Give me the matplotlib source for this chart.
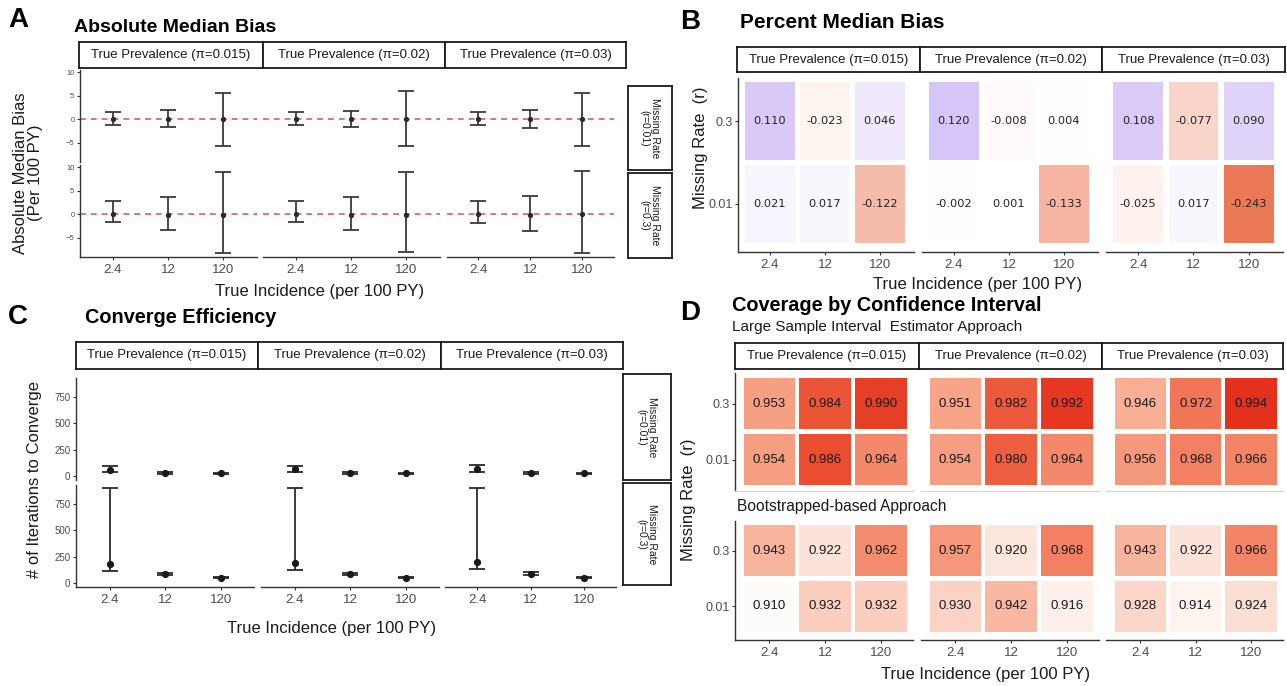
import matplotlib
matplotlib.use("Agg")
import matplotlib.pyplot as plt
from matplotlib.colors import LinearSegmentedColormap, Normalize

plt.rcParams['font.family'] = ['Liberation Sans', 'DejaVu Sans']

# ---------------- data ----------------
incidence = ["2.4", "12", "120"]
prevalence = ["True Prevalence (\u03c0=0.015)", "True Prevalence (\u03c0=0.02)",
              "True Prevalence (\u03c0=0.03)"]
missing_strip = ["Missing Rate\n(r=0.01)", "Missing Rate\n(r=0.3)"]
missing_rate = ["0.01", "0.3"]          # heatmap rows, bottom -> top

# A: absolute median bias (per 100 PY), [prevalence][incidence]
biasA_med_r001 = [[0.0, 0.0, 0.0], [0.0, 0.0, 0.0], [0.0, 0.0, 0.0]]
biasA_lo_r001 = [[-1.3, -1.8, -5.7], [-1.3, -1.8, -5.7], [-1.3, -2.0, -5.8]]
biasA_hi_r001 = [[1.5, 1.9, 5.5], [1.5, 1.8, 6.0], [1.5, 2.0, 5.6]]
biasA_med_r03 = [[0.0, -0.2, -0.2], [0.0, -0.2, -0.2], [0.0, -0.2, 0.0]]
biasA_lo_r03 = [[-1.8, -3.4, -8.2], [-1.8, -3.5, -8.1], [-1.9, -3.7, -8.2]]
biasA_hi_r03 = [[2.8, 3.7, 8.9], [2.8, 3.7, 9.0], [2.8, 3.8, 9.2]]

# B: percent median bias
pbias_r03 = [[0.110, -0.023, 0.046], [0.120, -0.008, 0.004], [0.108, -0.077, 0.090]]
pbias_r001 = [[0.021, 0.017, -0.122], [-0.002, 0.001, -0.133], [-0.025, 0.017, -0.243]]

# C: iterations to converge
iter_med_r001 = [[60, 28, 25], [62, 28, 25], [62, 28, 25]]
iter_lo_r001 = [[40, 20, 17], [40, 20, 17], [38, 20, 17]]
iter_hi_r001 = [[95, 35, 32], [95, 35, 32], [105, 35, 32]]
iter_med_r03 = [[178, 83, 50], [187, 85, 50], [197, 90, 50]]
iter_lo_r03 = [[117, 72, 43], [123, 74, 43], [130, 78, 43]]
iter_hi_r03 = [[900, 95, 58], [900, 97, 58], [900, 100, 58]]

# D: coverage
cov_large_r03 = [[0.953, 0.984, 0.990], [0.951, 0.982, 0.992], [0.946, 0.972, 0.994]]
cov_large_r001 = [[0.954, 0.986, 0.964], [0.954, 0.980, 0.964], [0.956, 0.968, 0.966]]
cov_boot_r03 = [[0.943, 0.922, 0.962], [0.957, 0.920, 0.968], [0.943, 0.922, 0.966]]
cov_boot_r001 = [[0.910, 0.932, 0.932], [0.930, 0.942, 0.916], [0.928, 0.914, 0.924]]

# ---------------- layout helpers ----------------
W, H = 1287, 686
fig = plt.figure(figsize=(W / 100, H / 100), dpi=100)
TICKC = '#4d4d4d'
AXC = '#333333'
TXT = '#1a1a1a'


def add_ax(x0, y0, x1, y1):
    return fig.add_axes([x0 / W, 1 - y1 / H, (x1 - x0) / W, (y1 - y0) / H])


def ftext(x, y, s, **kw):
    fig.text(x / W, 1 - y / H, s, **kw)


def strip(x0, y0, x1, y1, text, rot=0, fs=9.5):
    ax = add_ax(x0, y0, x1, y1)
    ax.set_xticks([])
    ax.set_yticks([])
    ax.set_facecolor('white')
    for sp in ax.spines.values():
        sp.set_linewidth(1.3)
        sp.set_color(TXT)
    ax.text(0.5, 0.5, text, ha='center', va='center', rotation=rot, fontsize=fs,
            transform=ax.transAxes, color=TXT, linespacing=1.05)


def style(ax, show_y, show_x, xcolor=AXC, xlabels=True, yfs=6):
    ax.set_facecolor('none')
    for s in ['top', 'right']:
        ax.spines[s].set_visible(False)
    ax.spines['left'].set_visible(show_y)
    ax.spines['left'].set_color(AXC)
    ax.spines['left'].set_linewidth(1.0)
    ax.spines['bottom'].set_visible(show_x)
    ax.spines['bottom'].set_color(xcolor)
    ax.spines['bottom'].set_linewidth(1.0)
    ax.tick_params(axis='y', length=2.5 if show_y else 0, width=0.8, color=AXC,
                   labelleft=show_y, labelsize=yfs, labelcolor=TICKC, pad=1.5)
    ax.tick_params(axis='x', length=2.5 if (show_x and xlabels) else 0, width=0.8,
                   color=AXC, labelbottom=(show_x and xlabels), labelsize=9.5,
                   labelcolor=TICKC, pad=2.5)


xpos = list(range(len(incidence)))

# ================= Panel A =================
ftext(8, 20, "A", fontsize=20, fontweight='bold', va='center')
ftext(74, 27, "Absolute Median Bias", fontsize=14, fontweight='bold', va='center')
A_fx = [(80, 257), (263, 440), (447, 614)]
A_rows = [(70, 162), (165, 257)]
A_strips = [(79, 263), (263, 445), (445, 626)]
for (x0, x1), lab in zip(A_strips, prevalence):
    strip(x0, 42, x1, 68, lab)
for (y0, y1), lab in zip([(86, 170), (173, 258)], missing_strip):
    strip(628, y0, 672, y1, lab, rot=-90, fs=7.5)

A_data = [(biasA_med_r001, biasA_lo_r001, biasA_hi_r001),
          (biasA_med_r03, biasA_lo_r03, biasA_hi_r03)]
for r, (y0, y1) in enumerate(A_rows):
    med, lo, hi = A_data[r]
    for p, (x0, x1) in enumerate(A_fx):
        ax = add_ax(x0, y0, x1, y1)
        ax.axhline(0, color='#e5595e', ls=(0, (3.5, 3)), lw=1.2, zorder=1)
        m = med[p]
        ax.errorbar(xpos, m, yerr=[[m[i] - lo[p][i] for i in xpos],
                                   [hi[p][i] - m[i] for i in xpos]],
                    fmt='o', ms=2.8, color='#2b2b2b', ecolor='#3a3a3a',
                    elinewidth=1.3, capsize=5.5, capthick=1.3, zorder=3)
        ax.set_xlim(-0.6, 2.62)
        ax.set_ylim(-9.15, 10.43)
        ax.set_yticks([-5, 0, 5, 10])
        ax.set_xticks(xpos)
        ax.set_xticklabels(incidence)
        style(ax, show_y=(p == 0), show_x=(r == 1), yfs=5.5)
ftext(28, 173, "Absolute Median Bias\n(Per 100 PY)", fontsize=12, rotation=90,
      ha='center', va='center', linespacing=0.95, color=TXT)
ftext(320, 292, "True Incidence (per 100 PY)", fontsize=12, ha='center',
      va='center', color=TXT)

# ================= Panel C =================
ftext(8, 317, "C", fontsize=20, fontweight='bold', va='center')
ftext(85, 317, "Converge Efficiency", fontsize=14.3, fontweight='bold', va='center')
C_fx = [(76, 254), (261, 439), (445, 616)]
C_rows = [(377.6, 479.7), (484.6, 586.7)]
C_strips = [(76, 258), (258, 441), (441, 623)]
for (x0, x1), lab in zip(C_strips, prevalence):
    strip(x0, 342, x1, 369, lab)
for (y0, y1), lab in zip([(374, 480), (483, 585)], missing_strip):
    strip(623, y0, 671, y1, lab, rot=-90, fs=7.5)

C_data = [(iter_med_r001, iter_lo_r001, iter_hi_r001),
          (iter_med_r03, iter_lo_r03, iter_hi_r03)]
for r, (y0, y1) in enumerate(C_rows):
    med, lo, hi = C_data[r]
    for p, (x0, x1) in enumerate(C_fx):
        ax = add_ax(x0, y0, x1, y1)
        m = med[p]
        ax.errorbar(xpos, m, yerr=[[m[i] - lo[p][i] for i in xpos],
                                   [hi[p][i] - m[i] for i in xpos]],
                    fmt='o', ms=4.2, color=TXT, ecolor='#2b2b2b',
                    elinewidth=1.3, capsize=5.5, capthick=1.3, zorder=3)
        ax.set_xlim(-0.61, 2.6)
        ax.set_ylim(-35, 935)
        ax.set_yticks([0, 250, 500, 750])
        ax.set_xticks(xpos)
        ax.set_xticklabels(incidence)
        style(ax, show_y=(p == 0), show_x=(r == 1), yfs=7)
ftext(35, 480, "# of Iterations to Converge", fontsize=12, rotation=90,
      ha='center', va='center', color=TXT)
ftext(332, 628, "True Incidence (per 100 PY)", fontsize=12, ha='center',
      va='center', color=TXT)

# ================= Panel B =================
ftext(680, 22, "B", fontsize=20, fontweight='bold', va='center')
ftext(740, 22, "Percent Median Bias", fontsize=15, fontweight='bold', va='center')
B_fx = [(738, 914), (922, 1098), (1106, 1283)]
B_strips = [(737, 920), (920, 1102), (1102, 1285)]
for (x0, x1), lab in zip(B_strips, prevalence):
    strip(x0, 47, x1, 72, lab)

cmapB = LinearSegmentedColormap.from_list(
    'pmb', [(0.0, '#ec7652'), (0.5, '#ffffff'), (1.0, '#ab86f0')])
normB = Normalize(-0.25, 0.25)
B_rows = [pbias_r001, pbias_r03]
for p, (x0, x1) in enumerate(B_fx):
    ax = add_ax(x0, 78, x1, 252)
    for yi, vals in enumerate(B_rows):
        v = vals[p]
        ax.bar(xpos, [0.95] * 3, bottom=yi - 0.475, width=0.9,
               color=[cmapB(normB(t)) for t in v], linewidth=0)
        for xi, t in zip(xpos, v):
            ax.text(xi, yi, f"{t:.3f}", ha='center', va='center', fontsize=8.2,
                    color='#222222', family='DejaVu Sans')
    ax.set_xlim(-0.58, 2.62)
    ax.set_ylim(-0.58, 1.52)
    ax.set_xticks(xpos)
    ax.set_xticklabels(incidence)
    ax.set_yticks([0, 1])
    ax.set_yticklabels(missing_rate)
    style(ax, show_y=(p == 0), show_x=True, yfs=9)
ftext(701, 148, "Missing Rate  (r)", fontsize=12, rotation=90, ha='center',
      va='center', color=TXT)
ftext(978, 285, "True Incidence (per 100 PY)", fontsize=12, ha='center',
      va='center', color=TXT)

# ================= Panel D =================
ftext(680, 313, "D", fontsize=20, fontweight='bold', va='center')
ftext(732, 306, "Coverage by Confidence Interval", fontsize=14.3, fontweight='bold',
      va='center')
ftext(732, 327, "Large Sample Interval  Estimator Approach", fontsize=11,
      va='center', color=TXT)
ftext(737, 507, "Bootstrapped-based Approach", fontsize=11.2, va='center',
      color=TXT)
D_fx = [(735, 913), (921, 1099), (1106, 1283)]
D_strips = [(735, 919), (919, 1102), (1102, 1283)]
for (x0, x1), lab in zip(D_strips, prevalence):
    strip(x0, 343, x1, 369, lab)

cmapD = LinearSegmentedColormap.from_list(
    'cov', [(0.0, '#fefcfb'), (0.235, '#fbd2c3'), (0.47, '#f7a68a'),
            (0.706, '#f27c5d'), (0.882, '#ec5133'), (1.0, '#e32e1a')])
normD = Normalize(0.91, 0.995)
D_panels = [((373, 491), [cov_large_r001, cov_large_r03], False, (-0.56, 1.545)),
            ((521, 640), [cov_boot_r001, cov_boot_r03], True, (-0.6, 1.53))]
for (y0, y1), rows, xlab, ylim in D_panels:
    for p, (x0, x1) in enumerate(D_fx):
        ax = add_ax(x0, y0, x1, y1)
        for yi, vals in enumerate(rows):
            v = vals[p]
            ax.bar(xpos, [0.91] * 3, bottom=yi - 0.455, width=0.93,
                   color=[cmapD(normD(t)) for t in v], linewidth=0)
            for xi, t in zip(xpos, v):
                ax.text(xi, yi, f"{t:.3f}", ha='center', va='center',
                        fontsize=9.5, color=TXT)
        ax.set_xlim(-0.62, 2.58)
        ax.set_ylim(*ylim)
        ax.set_xticks(xpos)
        ax.set_xticklabels(incidence)
        ax.set_yticks([0, 1])
        ax.set_yticklabels(missing_rate)
        style(ax, show_y=(p == 0), show_x=True,
              xcolor=(AXC if xlab else '#d9d9d9'), xlabels=xlab, yfs=9)
ftext(688, 500, "Missing Rate  (r)", fontsize=12, rotation=90, ha='center',
      va='center', color=TXT)
ftext(986, 675, "True Incidence (per 100 PY)", fontsize=12, ha='center',
      va='center', color=TXT)

fig.savefig("out.png", dpi=100, facecolor='white')
